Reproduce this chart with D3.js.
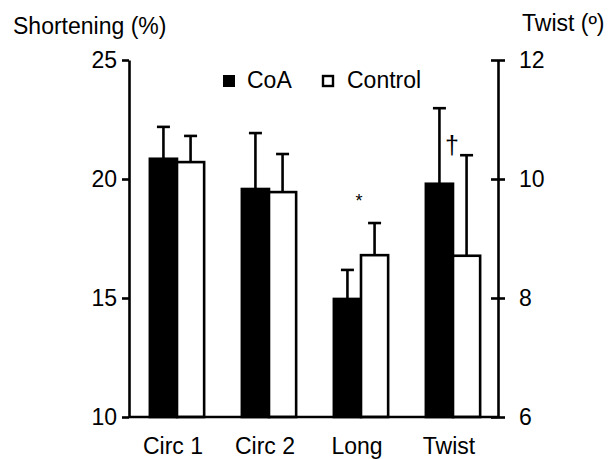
<!DOCTYPE html>
<html lang="en">
<head>
    <meta charset="UTF-8">
    <title>shortening</title>
    <script src="https://cdn.jsdelivr.net/npm/d3@7/dist/d3.min.js"></script>
    <style>
        body { margin: 0; background: #fff; }
        text { font-family: "Liberation Sans", Arial, sans-serif; fill: #000; }
    </style>
</head>
<body>
    <script>
        // data
        const categories = ['Circ 1', 'Circ 2', 'Long', 'Twist'];
        const groups = ['CoA', 'Control'];
        const coaMean = [20.85, 19.58, 14.96, 9.92];     // Twist is in degrees (right axis)
        const coaSd = [1.34, 2.35, 1.22, 1.27];
        const controlMean = [20.71, 19.45, 16.80, 8.71];
        const controlSd = [1.10, 1.60, 1.35, 1.69];
        const leftTicks = [10, 15, 20, 25];
        const rightTicks = [6, 8, 10, 12];

        const width = 616, height = 459;
        const leftX = 129, rightX = 498, plotTop = 60, plotBottom = 417;
        const fs = 23;

        const svg = d3.select('body').append('svg')
            .attr('width', width)
            .attr('height', height);

        const x0 = d3.scaleBand().domain(categories).range([131, 499])
            .paddingInner(0.41).paddingOuter(0.205);
        const x1 = d3.scaleBand().domain(groups).range([0, x0.bandwidth()]);
        const yL = d3.scaleLinear().domain([10, 25]).range([plotBottom, plotTop]);
        const yR = d3.scaleLinear().domain([6, 12]).range([plotBottom, plotTop]);

        // twist uses the right hand scale
        const yFor = c => c === 'Twist' ? yR : yL;

        const rows = [];
        categories.forEach((c, i) => {
            rows.push({cat: c, grp: 'CoA', mean: coaMean[i], sd: coaSd[i]});
            rows.push({cat: c, grp: 'Control', mean: controlMean[i], sd: controlSd[i]});
        });

        // error bars first so the bars sit over the stems
        const err = svg.append('g').attr('stroke', '#000').attr('stroke-width', 2.6);
        rows.forEach(d => {
            const y = yFor(d.cat);
            const cx = x0(d.cat) + x1(d.grp) + x1.bandwidth() / 2;
            err.append('line').attr('x1', cx).attr('x2', cx)
                .attr('y1', y(d.mean)).attr('y2', y(d.mean + d.sd));
            err.append('line').attr('x1', cx - 6.5).attr('x2', cx + 6.5)
                .attr('y1', y(d.mean + d.sd)).attr('y2', y(d.mean + d.sd));
        });

        svg.append('g').selectAll('rect').data(rows).enter().append('rect')
            .attr('x', d => x0(d.cat) + x1(d.grp))
            .attr('y', d => yFor(d.cat)(d.mean))
            .attr('width', x1.bandwidth())
            .attr('height', d => plotBottom - yFor(d.cat)(d.mean))
            .attr('fill', d => d.grp === 'CoA' ? '#000' : '#fff')
            .attr('stroke', '#000')
            .attr('stroke-width', 2.6);

        // left axis
        const axL = svg.append('g').attr('transform', `translate(${leftX},0)`)
            .call(d3.axisLeft(yL).tickValues(leftTicks).tickFormat(d3.format('d'))
                .tickSize(7).tickSizeOuter(0).tickPadding(5));
        // right axis, ticks cross the line
        const axR = svg.append('g').attr('transform', `translate(${rightX},0)`)
            .call(d3.axisRight(yR).tickValues(rightTicks).tickFormat(d3.format('d'))
                .tickSize(7).tickSizeOuter(0).tickPadding(22));
        axR.selectAll('.tick line').attr('x1', -7).attr('x2', 7);
        axR.selectAll('.tick text').attr('x', 21);
        [axL, axR].forEach(a => {
            a.selectAll('path, line').attr('stroke', '#000').attr('stroke-width', 2.6);
            a.selectAll('text').attr('font-size', fs).attr('font-family', '"Liberation Sans", Arial, sans-serif');
        });

        // baseline
        svg.append('line').attr('x1', leftX).attr('x2', rightX)
            .attr('y1', plotBottom).attr('y2', plotBottom)
            .attr('stroke', '#000').attr('stroke-width', 2.6);

        // category labels
        svg.append('g').selectAll('text').data(categories).enter().append('text')
            .attr('x', d => x0(d) + x0.bandwidth() / 2 - 4)
            .attr('y', 454)
            .attr('text-anchor', 'middle')
            .attr('font-size', fs)
            .text(d => d);

        // axis titles
        svg.append('text').attr('x', 13).attr('y', 34).attr('font-size', fs).text('Shortening (%)');
        svg.append('text').attr('x', 522).attr('y', 31).attr('font-size', fs).text('Twist (º)');

        // legend
        const legend = svg.append('g');
        legend.append('rect').attr('x', 223).attr('y', 75).attr('width', 12).attr('height', 12).attr('fill', '#000');
        legend.append('text').attr('x', 247).attr('y', 88).attr('font-size', fs).text('CoA');
        legend.append('rect').attr('x', 323).attr('y', 76).attr('width', 10).attr('height', 10)
            .attr('fill', '#fff').attr('stroke', '#000').attr('stroke-width', 2.4);
        legend.append('text').attr('x', 347).attr('y', 88).attr('font-size', fs).text('Control');

        // significance marks
        svg.append('text').attr('x', x0('Long') + x0.bandwidth() / 2 - 2).attr('y', 207)
            .attr('text-anchor', 'middle').attr('font-size', 18).text('*');
        svg.append('text').attr('x', x0('Twist') + x0.bandwidth() / 2 - 1).attr('y', 154)
            .attr('text-anchor', 'middle').attr('font-size', 25).text('†');
    </script>
</body>
</html>
